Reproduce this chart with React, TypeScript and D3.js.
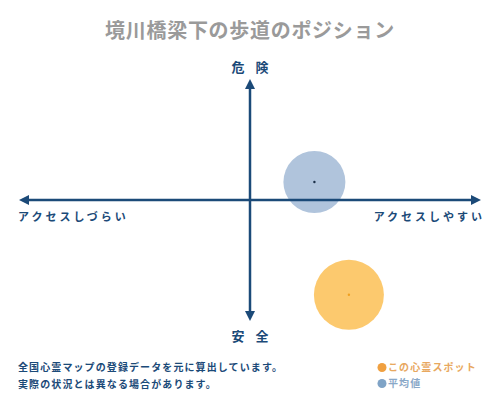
import React from "react";
import * as d3 from "d3";

// Position values (access: -100..100, danger: -100..100)
const seriesNames = ["この心霊スポット", "平均値"];
const accessValues = [43, 28];
const dangerValues = [-79, 15];

const axisLabels = { top: "危 険", bottom: "安 全", left: "アクセスしづらい", right: "アクセスしやすい" };
const titleText = "境川橋梁下の歩道のポジション";
const noteLines = ["全国心霊マップの登録データを元に算出しています。", "実際の状況とは異なる場合があります。"];

const W = 500;
const H = 400;
const navy = "#1b4a78";
const font = "'Noto Sans CJK JP', 'DejaVu Serif', serif";

const fills = ["#fcc96e", "#b0c4dc"];
const dots = ["#f0a020", "#1b2f48"];
const radii = [35, 31];
const legendColors = ["#f0a040", "#7fa3c6"];
const legendText = ["#e8a860", "#8aa8c8"];

export default function App() {
  const x = d3.scaleLinear().domain([-100, 100]).range([20, 480]);
  const y = d3.scaleLinear().domain([-100, 100]).range([320, 80]);
  const cx = x(0);
  const cy = y(0);

  const points = seriesNames.map((name, i) => ({
    name,
    px: x(accessValues[i]),
    py: y(dangerValues[i]),
    i,
  }));

  return (
    <svg width={W} height={H} style={{ position: "absolute", left: 0, top: 0, background: "#fff" }}>
      <defs>
        <marker id="arr" viewBox="0 0 10 10" refX="5" refY="5" markerWidth="4" markerHeight="4" orient="auto-start-reverse">
          <path d="M0,0 L10,5 L0,10 z" fill={navy} />
        </marker>
      </defs>
      <text x={W / 2} y={38} textAnchor="middle" fontFamily={font} fontSize={20} fontWeight="bold" fill="#9a9a9a" letterSpacing={0.7}>
        {titleText}
      </text>

      {/* bubbles */}
      {points.map((p) => (
        <circle key={p.name} cx={p.px} cy={p.py} r={radii[p.i]} fill={fills[p.i]} />
      ))}

      {/* axes */}
      <line x1={x(-100) + 4} x2={x(100) - 4} y1={cy} y2={cy} stroke={navy} strokeWidth={2.5}
        markerStart="url(#arr)" markerEnd="url(#arr)" />
      <line x1={cx} x2={cx} y1={y(100) + 4} y2={y(-100) - 4} stroke={navy} strokeWidth={2.5}
        markerStart="url(#arr)" markerEnd="url(#arr)" />

      {points.map((p) => (
        <circle key={p.name + "c"} cx={p.px} cy={p.py} r={1.2} fill={dots[p.i]} />
      ))}

      <text x={cx + 2} y={72} textAnchor="middle" fontFamily={font} fontSize={13} fontWeight="bold" fill={navy} letterSpacing={4} style={{ whiteSpace: "pre" }}>
        {axisLabels.top}
      </text>
      <text x={cx + 2} y={341} textAnchor="middle" fontFamily={font} fontSize={13} fontWeight="bold" fill={navy} letterSpacing={4} style={{ whiteSpace: "pre" }}>
        {axisLabels.bottom}
      </text>
      <text x={18} y={221} fontFamily={font} fontSize={11} fontWeight="bold" fill={navy} letterSpacing={3}>
        {axisLabels.left}
      </text>
      <text x={485} y={221} textAnchor="end" fontFamily={font} fontSize={11} fontWeight="bold" fill={navy} letterSpacing={3}>
        {axisLabels.right}
      </text>

      {noteLines.map((t, i) => (
        <text key={t} x={18} y={371 + i * 17} fontFamily={font} fontSize={10} fontWeight="bold" fill={navy} letterSpacing={1.1}>
          {t}
        </text>
      ))}

      {seriesNames.map((n, i) => (
        <g key={n} transform={`translate(382,${367.5 + i * 16})`}>
          <circle r={4.5} fill={legendColors[i]} />
          <text x={6} y={3.8} fontFamily={font} fontSize={10} fontWeight="bold" fill={legendText[i]} letterSpacing={1.1}>
            {n}
          </text>
        </g>
      ))}
    </svg>
  );
}
